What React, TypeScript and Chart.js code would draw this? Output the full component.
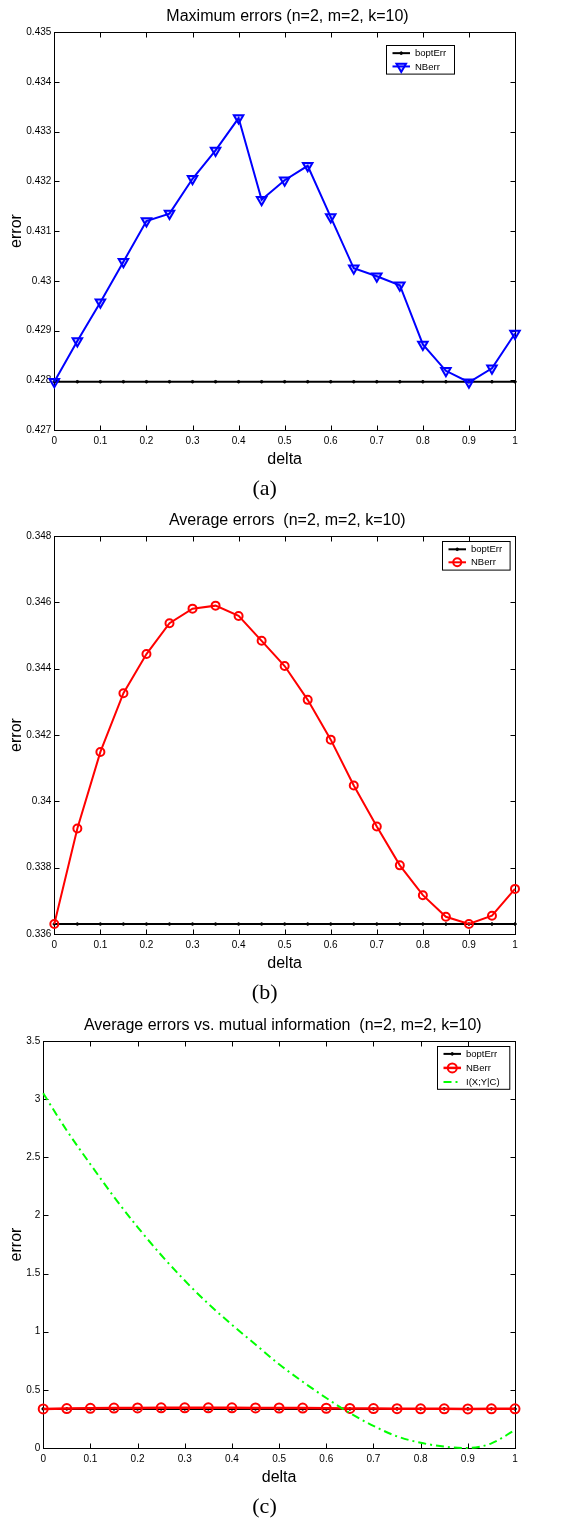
import React, { useEffect, useRef } from 'react';
import { Chart, registerables } from 'chart.js';

Chart.register(...registerables);

// ---------- data ----------
const deltas = [0, 0.05, 0.1, 0.15, 0.2, 0.25, 0.3, 0.35, 0.4, 0.45, 0.5, 0.55, 0.6, 0.65, 0.7, 0.75, 0.8, 0.85, 0.9, 0.95, 1];

const xTickValues = [0, 0.1, 0.2, 0.3, 0.4, 0.5, 0.6, 0.7, 0.8, 0.9, 1];
const xTickLabels = ['0', '0.1', '0.2', '0.3', '0.4', '0.5', '0.6', '0.7', '0.8', '0.9', '1'];

// (a) Maximum errors
const maxBoptErr = [0.42797, 0.42797, 0.42797, 0.42797, 0.42797, 0.42797, 0.42797, 0.42797, 0.42797, 0.42797, 0.42797, 0.42797, 0.42797, 0.42797, 0.42797, 0.42797, 0.42797, 0.42797, 0.42797, 0.42797, 0.42797];
const maxNBerr = [0.42797, 0.42879, 0.42957, 0.43038, 0.4312, 0.43135, 0.43205, 0.43262, 0.43327, 0.43163, 0.43202, 0.43231, 0.43128, 0.43025, 0.43009, 0.42991, 0.42872, 0.42819, 0.42796, 0.42824, 0.42894];
const yTicksA = [0.427, 0.428, 0.429, 0.43, 0.431, 0.432, 0.433, 0.434, 0.435];
const yTickLabelsA = ['0.427', '0.428', '0.429', '0.43', '0.431', '0.432', '0.433', '0.434', '0.435'];

// (b) Average errors
const avgBoptErr = [0.3363, 0.3363, 0.3363, 0.3363, 0.3363, 0.3363, 0.3363, 0.3363, 0.3363, 0.3363, 0.3363, 0.3363, 0.3363, 0.3363, 0.3363, 0.3363, 0.3363, 0.3363, 0.3363, 0.3363, 0.3363];
const avgNBerr = [0.3363, 0.33918, 0.34149, 0.34326, 0.34444, 0.34537, 0.34581, 0.3459, 0.34559, 0.34484, 0.34408, 0.34306, 0.34186, 0.34048, 0.33924, 0.33807, 0.33717, 0.33652, 0.3363, 0.33655, 0.33736];
const yTicksB = [0.336, 0.338, 0.34, 0.342, 0.344, 0.346, 0.348];
const yTickLabelsB = ['0.336', '0.338', '0.34', '0.342', '0.344', '0.346', '0.348'];

// (c) Average errors vs mutual information
const mutualInfo = [3.05, 2.73, 2.44, 2.16, 1.9, 1.66, 1.44, 1.24, 1.06, 0.89, 0.72, 0.57, 0.43, 0.3, 0.19, 0.1, 0.045, 0.012, 0.0, 0.04, 0.155];
const yTicksC = [0, 0.5, 1, 1.5, 2, 2.5, 3, 3.5];
const yTickLabelsC = ['0', '0.5', '1', '1.5', '2', '2.5', '3', '3.5'];

// ---------- styling helpers ----------
const SANS = "'Liberation Sans', Arial, Helvetica, sans-serif";
const SERIF = "'Liberation Serif', 'Times New Roman', serif";

const TITLE_PAD_TOP = 7.4;
const TITLE_SIZE = 16;
const CAPTION_SIZE = 22;
const CAPTION_PAD_BOTTOM = 0;

const pts = (vals: number[]) => deltas.map((d, i) => ({ x: d, y: vals[i] }));

function drawMarker(ctx: CanvasRenderingContext2D, style: string, x: number, y: number, r: number, rotDeg: number) {
  ctx.beginPath();
  if (style === 'triangle') {
    let rad = (rotDeg * Math.PI) / 180;
    const step = (2 * Math.PI) / 3;
    ctx.moveTo(x + Math.sin(rad) * r, y - Math.cos(rad) * r);
    rad += step;
    ctx.lineTo(x + Math.sin(rad) * r, y - Math.cos(rad) * r);
    rad += step;
    ctx.lineTo(x + Math.sin(rad) * r, y - Math.cos(rad) * r);
    ctx.closePath();
  } else {
    ctx.arc(x, y, r, 0, Math.PI * 2);
  }
}

const framePlugin = {
  id: 'matlabFrame',
  beforeDatasetsDraw(chart: any) {
    const { ctx, chartArea: a, scales } = chart;
    ctx.save();
    ctx.strokeStyle = '#000';
    ctx.lineWidth = 1;
    const L = Math.round(a.left) + 0.5;
    const R = Math.round(a.right) + 0.5;
    const T = Math.round(a.top) + 0.5;
    const B = Math.round(a.bottom) + 0.5;
    ctx.strokeRect(L, T, R - L, B - T);
    ctx.beginPath();
    for (const t of scales.x.ticks) {
      const px = Math.round(scales.x.getPixelForValue(t.value)) + 0.5;
      ctx.moveTo(px, B);
      ctx.lineTo(px, B - 5);
      ctx.moveTo(px, T);
      ctx.lineTo(px, T + 5);
    }
    for (const t of scales.y.ticks) {
      const py = Math.round(scales.y.getPixelForValue(t.value)) + 0.5;
      ctx.moveTo(L, py);
      ctx.lineTo(L + 5, py);
      ctx.moveTo(R, py);
      ctx.lineTo(R - 5, py);
    }
    ctx.stroke();
    ctx.restore();
  },
};

type LegendSpec = { right: number; top: number; width: number; rowH: number; pad: number };

function makeLegendPlugin(lg: LegendSpec) {
  return {
    id: 'insideLegend',
    afterDatasetsDraw(chart: any) {
      const { ctx, chartArea: a } = chart;
      const items = chart.data.datasets;
      const h = items.length * lg.rowH + lg.pad * 2;
      const x0 = Math.round(a.right - lg.right - lg.width) + 0.5;
      const y0 = Math.round(a.top + lg.top) + 0.5;
      ctx.save();
      ctx.fillStyle = '#fff';
      ctx.fillRect(x0, y0, lg.width, h);
      ctx.strokeStyle = '#000';
      ctx.lineWidth = 1;
      ctx.strokeRect(x0, y0, lg.width, h);
      items.forEach((ds: any, i: number) => {
        const cy = y0 + lg.pad + lg.rowH * (i + 0.5);
        const lx0 = x0 + 6;
        const lx1 = x0 + 23.5;
        ctx.strokeStyle = ds.borderColor;
        ctx.lineWidth = ds.borderWidth;
        ctx.setLineDash(ds.borderDash || []);
        ctx.beginPath();
        ctx.moveTo(lx0, cy);
        ctx.lineTo(lx1, cy);
        ctx.stroke();
        ctx.setLineDash([]);
        if (ds.pointRadius > 0) {
          drawMarker(ctx, ds.pointStyle, (lx0 + lx1) / 2, cy, ds.pointRadius, ds.pointRotation || 0);
          if (ds.pointBackgroundColor) {
            ctx.fillStyle = ds.pointBackgroundColor;
            ctx.fill();
          }
          ctx.strokeStyle = ds.pointBorderColor;
          ctx.lineWidth = ds.pointBorderWidth;
          ctx.stroke();
        }
        ctx.fillStyle = '#000';
        ctx.font = `9.5px ${SANS}`;
        ctx.textBaseline = 'middle';
        ctx.textAlign = 'left';
        ctx.fillText(ds.label, x0 + 28.5, cy + 0.5);
      });
      ctx.restore();
    },
  };
}

// draws the title (centred over the plot) and the panel caption
function makeTextPlugin(spec: Spec) {
  return {
    id: 'panelTexts',
    afterDraw(chart: any) {
      const { ctx } = chart;
      ctx.save();
      ctx.fillStyle = '#000';
      ctx.textAlign = 'center';
      ctx.textBaseline = 'middle';
      const tb = chart.titleBlock;
      const ty = (tb ? tb.top : 0) + TITLE_PAD_TOP + (TITLE_SIZE * 1.2) / 2;
      ctx.font = `normal ${TITLE_SIZE}px ${SANS}`;
      ctx.fillText(spec.title, spec.titleX, ty);
      ctx.font = `normal ${CAPTION_SIZE}px ${SERIF}`;
      ctx.fillText(spec.caption, spec.captionX, chart.height - CAPTION_PAD_BOTTOM - CAPTION_SIZE / 2);
      ctx.restore();
    },
  };
}

type Spec = {
  title: string;
  titleX: number;
  caption: string;
  captionX: number;
  height: number;
  yMin: number;
  yMax: number;
  yTicks: number[];
  yTickLabels: string[];
  datasets: any[];
  legend: LegendSpec;
};

function buildConfig(spec: Spec): any {
  const tickFont = { family: SANS, size: 10 };
  const axisFont = { family: SANS, size: 16 };
  return {
    type: 'line',
    data: { datasets: spec.datasets },
    plugins: [framePlugin, makeLegendPlugin(spec.legend), makeTextPlugin(spec)],
    options: {
      responsive: false,
      animation: false,
      events: [],
      layout: { padding: { left: 0, right: 64, top: 0, bottom: 0 } },
      plugins: {
        legend: { display: false },
        tooltip: { enabled: false },
        title: {
          display: true,
          text: spec.title,
          color: 'rgba(0,0,0,0)',
          font: { family: SANS, size: TITLE_SIZE, weight: 'normal', lineHeight: 1.2 },
          padding: { top: TITLE_PAD_TOP, bottom: 5.4 },
        },
        subtitle: {
          display: true,
          position: 'bottom',
          text: spec.caption,
          color: 'rgba(0,0,0,0)',
          font: { family: SERIF, size: CAPTION_SIZE, weight: 'normal', lineHeight: 1.0 },
          padding: { top: 6.4, bottom: CAPTION_PAD_BOTTOM },
        },
      },
      scales: {
        x: {
          type: 'linear',
          min: 0,
          max: 1,
          grid: { display: false, drawTicks: false },
          border: { display: false },
          afterBuildTicks: (s: any) => {
            s.ticks = xTickValues.map((v) => ({ value: v }));
          },
          ticks: {
            autoSkip: false,
            maxRotation: 0,
            padding: 5,
            color: '#000',
            font: tickFont,
            callback: (_v: any, i: number) => xTickLabels[i],
          },
          title: { display: true, text: 'delta', color: '#000', font: axisFont, padding: { top: -1.6, bottom: 2 } },
        },
        y: {
          type: 'linear',
          min: spec.yMin,
          max: spec.yMax,
          grid: { display: false, drawTicks: false },
          border: { display: false },
          afterBuildTicks: (s: any) => {
            s.ticks = spec.yTicks.map((v) => ({ value: v }));
          },
          ticks: {
            autoSkip: false,
            padding: 3,
            color: '#000',
            font: tickFont,
            callback: (_v: any, i: number) => spec.yTickLabels[i],
          },
          title: { display: true, text: 'error', color: '#000', font: axisFont, padding: { top: 7.1, bottom: -3 } },
        },
      },
    },
  };
}

const boptStyle = (data: number[]) => ({
  label: 'boptErr',
  data: pts(data),
  borderColor: '#000000',
  borderWidth: 2,
  pointStyle: 'circle',
  pointRadius: 1.3,
  pointBorderWidth: 1,
  pointBorderColor: '#000000',
  pointBackgroundColor: '#000000',
  clip: false,
  order: 2,
});

const specA: Spec = {
  title: 'Maximum errors (n=2, m=2, k=10)',
  titleX: 287.5,
  caption: '(a)',
  captionX: 264.7,
  height: 500,
  yMin: 0.427,
  yMax: 0.435,
  yTicks: yTicksA,
  yTickLabels: yTickLabelsA,
  legend: { right: 61, top: 13, width: 68, rowH: 13.3, pad: 1 },
  datasets: [
    boptStyle(maxBoptErr),
    {
      label: 'NBerr',
      data: pts(maxNBerr),
      borderColor: '#0000ff',
      borderWidth: 2,
      pointStyle: 'triangle',
      pointRotation: 180,
      pointRadius: 5.5,
      pointBorderWidth: 2,
      pointBorderColor: '#0000ff',
      pointBackgroundColor: 'rgba(0,0,255,0.2)',
      clip: false,
      order: 0,
    },
  ],
};

const specB: Spec = {
  title: 'Average errors  (n=2, m=2, k=10)',
  titleX: 287.3,
  caption: '(b)',
  captionX: 264.7,
  height: 500,
  yMin: 0.336,
  yMax: 0.348,
  yTicks: yTicksB,
  yTickLabels: yTickLabelsB,
  legend: { right: 5.7, top: 5, width: 67.6, rowH: 13, pad: 1.3 },
  datasets: [
    boptStyle(avgBoptErr),
    {
      label: 'NBerr',
      data: pts(avgNBerr),
      borderColor: '#ff0000',
      borderWidth: 2,
      pointStyle: 'circle',
      pointRadius: 4,
      pointBorderWidth: 2,
      pointBorderColor: '#ff0000',
      pointBackgroundColor: 'rgba(255,255,255,0)',
      clip: false,
      order: 0,
    },
  ],
};

const specC: Spec = {
  title: 'Average errors vs. mutual information  (n=2, m=2, k=10)',
  titleX: 282.8,
  caption: '(c)',
  captionX: 264.5,
  height: 509,
  yMin: 0,
  yMax: 3.5,
  yTicks: yTicksC,
  yTickLabels: yTickLabelsC,
  legend: { right: 5.7, top: 5, width: 72.3, rowH: 14, pad: 0.4 },
  datasets: [
    boptStyle(avgBoptErr),
    {
      label: 'NBerr',
      data: pts(avgNBerr),
      borderColor: '#ff0000',
      borderWidth: 2.5,
      pointStyle: 'circle',
      pointRadius: 4.5,
      pointBorderWidth: 2,
      pointBorderColor: '#ff0000',
      pointBackgroundColor: 'rgba(255,255,255,0)',
      clip: false,
      order: 1,
    },
    {
      label: 'I(X;Y|C)',
      data: pts(mutualInfo),
      borderColor: '#00ff00',
      borderWidth: 2,
      borderDash: [8, 4, 2, 4],
      cubicInterpolationMode: 'monotone',
      pointRadius: 0,
      clip: false,
      order: 0,
    },
  ],
};

function ChartPanel({ spec }: { spec: Spec }) {
  const ref = useRef<HTMLCanvasElement>(null);
  useEffect(() => {
    const chart = new Chart(ref.current as HTMLCanvasElement, buildConfig(spec));
    return () => chart.destroy();
  }, [spec]);
  return (
    <canvas
      ref={ref}
      width={579}
      height={spec.height}
      style={{ display: 'block', width: 579, height: spec.height }}
    />
  );
}

export default function App() {
  return (
    <div style={{ position: 'absolute', left: 0, top: 0, width: 579, height: 1519, background: '#fff' }}>
      <div style={{ position: 'absolute', left: 0, top: 0 }}>
        <ChartPanel spec={specA} />
      </div>
      <div style={{ position: 'absolute', left: 0, top: 504 }}>
        <ChartPanel spec={specB} />
      </div>
      <div style={{ position: 'absolute', left: 0, top: 1009 }}>
        <ChartPanel spec={specC} />
      </div>
    </div>
  );
}
